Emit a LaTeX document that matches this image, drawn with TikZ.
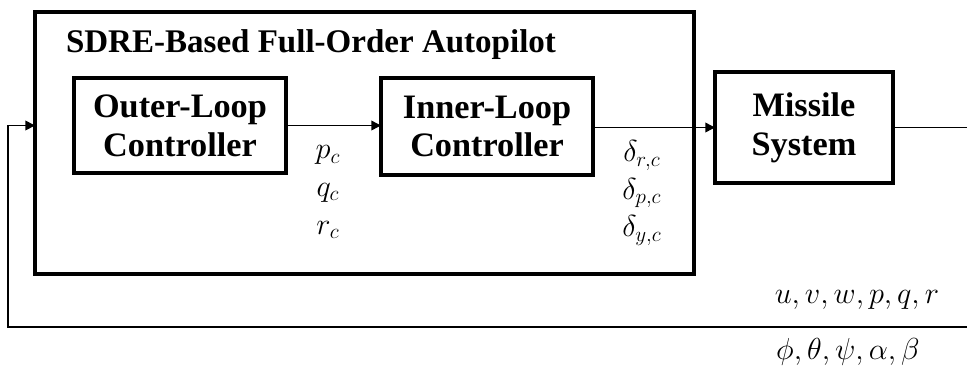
\documentclass[tikz,border=0pt]{standalone}
\usepackage{fontspec}
\setmainfont{Liberation Serif}
\usepackage{amsmath}
\usetikzlibrary{arrows.meta,positioning}
\tikzset{
  blk/.style={draw,line width=1.8pt,font=\bfseries\fontsize{19.5}{22}\selectfont,align=center,inner sep=0pt,outer sep=0pt},
  sig/.style={line width=0.8pt,-{Triangle[length=5.5pt,width=5.5pt]}},
  lbl/.style={font=\fontsize{18}{21.5}\selectfont,align=center,inner sep=0pt}
}
\begin{document}
\begin{tikzpicture}[x=0.02cm,y=-0.02cm]
\useasboundingbox (0,0) rectangle (967,369);
% autopilot frame
\node[draw,line width=2.3pt,minimum width=13.18cm,minimum height=5.24cm,outer sep=0pt] (autopilot) at (364.5,143) {};
\node[font=\bfseries\fontsize{18.8}{18.8}\selectfont,inner sep=0pt] (title) at (311,45) {SDRE-Based Full-Order Autopilot};
% blocks
\node[blk,minimum width=4.24cm,minimum height=1.9cm] (outer) at (180,125.5) {Outer-Loop\\Controller};
\node[blk,minimum width=4.24cm,minimum height=1.94cm] (inner) at (487,126.5) {Inner-Loop\\Controller};
\node[blk,minimum width=3.56cm,minimum height=2.22cm] (missile) at (804,127.5) {Missile\\System};
% signal labels
\node[lbl] (rates) at (328,192) {$p_c$\\$q_c$\\$r_c$};
\node[lbl] (defl) at (642,193) {$\delta_{r,c}$\\$\delta_{p,c}$\\$\delta_{y,c}$};
\node[lbl] (states1) at (857,300) {$u,v,w,p,q,r$};
\node[lbl] (states2) at (848,352) {$\phi,\theta,\psi,\alpha,\beta$};
\coordinate (out) at (967,125);
\coordinate (fbR) at (967,327);
\coordinate (fbL) at (8,327);
% connections
\draw[sig] (outer.east) -- (inner.west |- outer.east);
\draw[sig] (inner.east |- missile.west) -- (missile.west);
\draw[line width=0.8pt] (missile.east) -- (out |- missile.east);
\draw[sig] (fbR) -- (fbL) |- (autopilot.west |- outer.west);
\end{tikzpicture}
\end{document}
